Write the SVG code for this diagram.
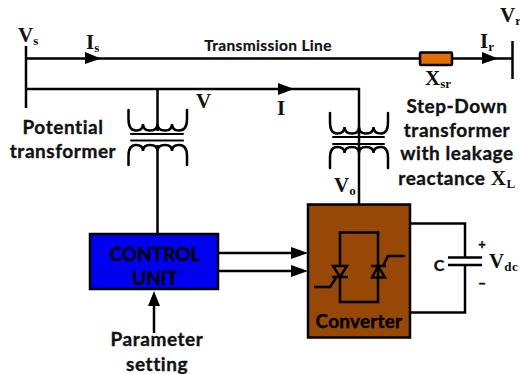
<svg xmlns="http://www.w3.org/2000/svg" width="520" height="374" viewBox="0 0 520 374">
<style>
.w{fill:none;stroke:#000;stroke-width:2.5}
.c{fill:none;stroke:#000;stroke-width:2.5;stroke-linecap:round}
.a{fill:#000;stroke:none}
.t{font-family:"Lato","Open Sans",sans-serif;font-weight:700;font-size:19px;letter-spacing:.55px;fill:#111;stroke:#111;stroke-width:.35;text-anchor:middle}
.s{font-family:"Liberation Serif",serif;font-weight:700;font-size:21px;fill:#111}
.u{font-size:13px}
</style>
<rect width="520" height="374" fill="#fff"/>
<g id="connectors">
<path class="w" d="M26 46V108M26 58.500H420M452 58.500H512M512.500 41V79M26 89H359V204M157.500 89V131M157.500 145V234M218 253H292M218 271H292M154 333V305M410 223.500H465V257M465 265V312.500H410"/>
<path class="a" d="M85 52L101 58.500L85 64ZM278 83L294 89L278 95ZM482 52L498 58.500L482 64ZM291 247L308 253L291 259ZM291 265L308 271L291 277ZM154 291L160 306L148 306Z"/>
</g>
<g id="transformer-left">
<path class="c" d="M128.500 110V119Q128.500 130.500 136 130.500Q143 130.500 143 124Q143 130.500 150 130.500Q157.500 130.500 157.500 124Q157.500 130.500 165 130.500Q172 130.500 172 124Q172 130.500 179 130.500Q187 130.500 187 119V110"/>
<path class="c" style="stroke-width:2" d="M131 134H183M131 140.500H183"/>
<path class="c" d="M128.500 165V156Q128.500 145 136 145Q143 145 143 151Q143 145 150 145Q157.500 145 157.500 151Q157.500 145 165 145Q172 145 172 151Q172 145 179 145Q187 145 187 156V165"/>
</g>
<g id="transformer-right">
<path class="c" d="M330 113V122Q330 133.500 337 133.500Q344.500 133.500 344.500 127Q344.500 133.500 352 133.500Q359 133.500 359 127Q359 133.500 366 133.500Q373.500 133.500 373.500 127Q373.500 133.500 381 133.500Q388 133.500 388 122V113"/>
<path class="c" style="stroke-width:2" d="M333 137H384M333 144H384"/>
<path class="c" d="M330 168V158Q330 147 337 147Q344.500 147 344.500 153Q344.500 147 352 147Q359 147 359 153Q359 147 366 147Q373.500 147 373.500 153Q373.500 147 381 147Q388 147 388 158V168"/>
</g>
<g id="reactor"><rect x="420" y="52.500" width="32" height="12.500" rx="1" fill="#E36C0A" stroke="#000" stroke-width="2.500"/></g>
<g id="control-unit">
<rect x="90" y="234" width="128" height="55" fill="#0000F0" stroke="#000" stroke-width="2.500"/>
<text class="t" x="155" y="261" style="fill:#000;stroke:#000;letter-spacing:0">CONTROL</text>
<text class="t" x="155" y="285" style="fill:#000;stroke:#000;letter-spacing:0">UNIT</text>
</g>
<g id="converter">
<rect x="308" y="204.500" width="102" height="133" fill="#974706" stroke="#000" stroke-width="2.500"/>
<path class="w" d="M340 266V232.500H378V302H340V277"/>
<path class="w" d="M333 266H347L340 277ZM332 277H348M372 277.500H385L378 266ZM371 266H386"/>
<path class="w" d="M314 287H330L336 278M383 266L388 256H405"/>
<text class="t" x="359" y="328" style="fill:#000;stroke:#000;letter-spacing:.2px">Converter</text>
</g>
<g id="capacitor">
<path class="w" d="M448 257.500H482M448 265H482"/>
<text class="t" x="439" y="271" style="font-size:16px;letter-spacing:0">C</text>
<text class="t" x="482" y="249" style="font-size:13px;letter-spacing:0">+</text>
<text class="t" x="482" y="288" style="font-size:13px;letter-spacing:0">−</text>
</g>
<g id="labels">
<text class="s" x="18" y="42">V<tspan class="u" dy="3">s</tspan></text>
<text class="s" x="86" y="49">I<tspan class="u" dy="3">s</tspan></text>
<text class="s" x="196" y="108">V</text>
<text class="s" x="277" y="115">I</text>
<text class="s" x="500" y="22">V<tspan class="u" dy="3">r</tspan></text>
<text class="s" x="480" y="48">I<tspan class="u" dy="3">r</tspan></text>
<text class="s" x="425" y="85">X<tspan class="u" dy="3">sr</tspan></text>
<text class="s" x="334" y="192">V<tspan class="u" dy="3">o</tspan></text>
<text class="s" x="489" y="268">V<tspan class="u" dy="3" style="letter-spacing:.5px">dc</tspan></text>
<text class="t" x="63" y="134">Potential</text>
<text class="t" x="63" y="158">transformer</text>
<text class="t" x="268" y="51" style="font-size:15.500px;letter-spacing:.35px;stroke-width:.2">Transmission Line</text>
<text class="t" x="457" y="113">Step-Down</text>
<text class="t" x="457" y="137">transformer</text>
<text class="t" x="457" y="160">with leakage</text>
<text class="t" x="457" y="185"><tspan>reactance </tspan><tspan style="font-family:'Liberation Serif',serif;font-size:21px;stroke:none">X</tspan><tspan dy="3" style="font-family:'Liberation Serif',serif;font-size:13px;stroke:none">L</tspan></text>
<text class="t" x="157" y="346">Parameter</text>
<text class="t" x="157" y="371">setting</text>
</g>
</svg>
